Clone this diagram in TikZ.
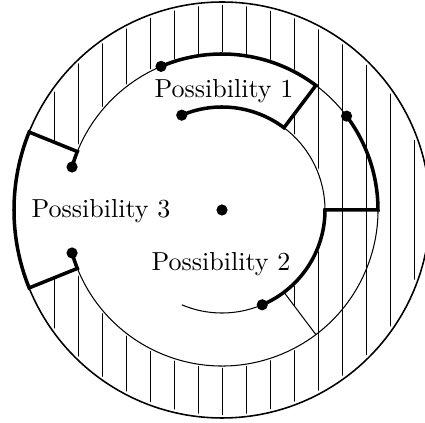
\documentclass[tikz,border=0pt]{standalone}
\usetikzlibrary{positioning}

\begin{document}
\begin{tikzpicture}[scale=0.0135,
  ring/.style={line width=0.4pt},
  rim/.style={line width=0.6pt},
  hatch/.style={line width=0.35pt},
  pth/.style={line width=1.35pt,line join=miter},
  dot/.style={circle,fill=black,inner sep=0pt,minimum size=4.3pt},
  lbl/.style={anchor=base,inner sep=0pt},
]
\useasboundingbox (-222,-213) rectangle (203,210);

% ---------------- hatching ----------------
\begin{scope}
  \clip (-158:205) arc[start angle=-158, end angle=158, radius=205]
    -- (158:158) arc[start angle=158, end angle=53, radius=158]
    -- (53:105) arc[start angle=53, end angle=-53, radius=105]
    -- (-53:158) arc[start angle=-53, end angle=-158, radius=158] -- cycle;
  \foreach \k in {-7,...,8}
    \draw[hatch] ({24*\k},-210) -- ({24*\k},210);
\end{scope}

% ---------------- circles ----------------
\coordinate (O) at (0,0);
\draw[rim] (O) circle[radius=208];
\draw[ring] (-158:156) arc[start angle=-158, end angle=158, radius=156];
\draw[ring] (-113:103) arc[start angle=-113, end angle=53, radius=103];
\draw[ring] (-53:103) -- (-53:156);
\node[dot] (c) at (O) {};

% ---------------- possibility 1 ----------------
\draw[pth] (113:156) arc[start angle=113, end angle=53, radius=156]
  -- (53:103) arc[start angle=53, end angle=113, radius=103];
\node[dot] (a1) at (113:156) {};
\node[dot] (b1) at (113:103) {};

% ---------------- possibility 2 ----------------
\draw[pth] (37:156) arc[start angle=37, end angle=0, radius=156]
  -- (0:103) arc[start angle=0, end angle=-67, radius=103];
\node[dot] (a2) at (37:156) {};
\node[dot] (b2) at (-67:103) {};

% ---------------- possibility 3 ----------------
\draw[pth] (164:156) arc[start angle=164, end angle=158, radius=156]
  -- (158:208) arc[start angle=158, end angle=202, radius=208]
  -- (202:156) arc[start angle=202, end angle=196, radius=156];
\node[dot] (a3) at (164:156) {};
\node[dot] (b3) at (196:156) {};

% ---------------- labels ----------------
\node[lbl] (p1) at (2,112) {Possibility 1};
\node[lbl] (p2) at (-1,-61) {Possibility 2};
\node[lbl] (p3) at (-121,-8) {Possibility 3};
\end{tikzpicture}
\end{document}
